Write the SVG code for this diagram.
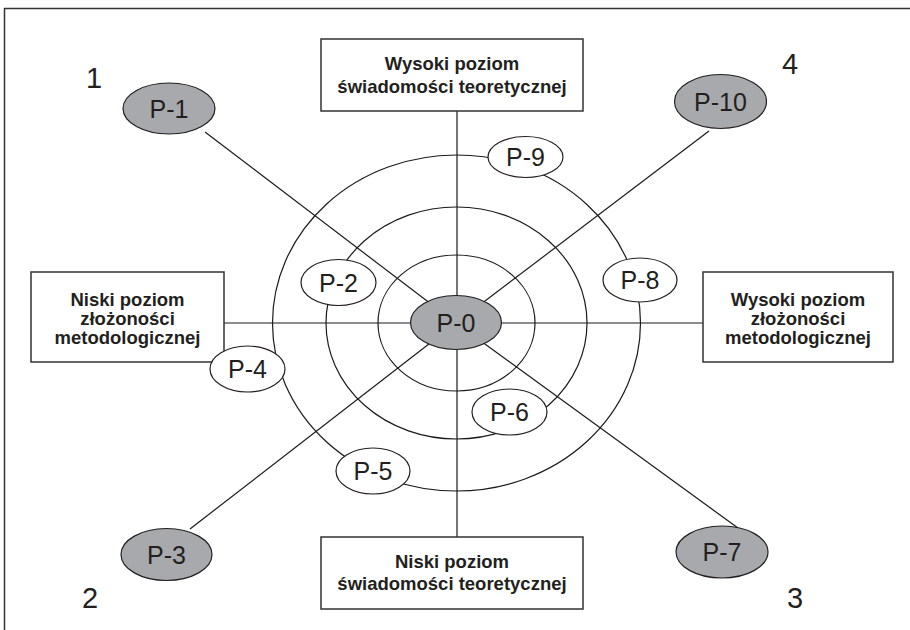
<svg xmlns="http://www.w3.org/2000/svg" width="910" height="630" viewBox="0 0 910 630">
<style>
.ln{stroke:#1a1a1a;stroke-width:1.2;fill:none}
.box{fill:#fff;stroke:#333;stroke-width:1.5}
.bt{font-family:"Liberation Sans",Arial,sans-serif;font-weight:bold;font-size:18.5px;fill:#231f20;text-anchor:middle}
.g{fill:#a7a9ac;stroke:#231f20;stroke-width:1.2}
.w{fill:#fff;stroke:#231f20;stroke-width:1.2}
.pt{font-family:"Liberation Sans",Arial,sans-serif;font-size:25px;fill:#231f20;text-anchor:middle}
.num{font-family:"Liberation Sans",Arial,sans-serif;font-size:29px;fill:#231f20;text-anchor:middle}
</style>
<rect width="910" height="630" fill="#fff"/>
<g id="frame">
<line x1="4" y1="8.5" x2="910" y2="8.5" stroke="#333" stroke-width="1.5"/>
<line x1="4.5" y1="8" x2="4.5" y2="630" stroke="#333" stroke-width="1.5"/>
</g>
<g id="connectors">
<ellipse class="ln" cx="456.5" cy="323" rx="184" ry="168"/>
<ellipse class="ln" cx="456.5" cy="323" rx="130.5" ry="116"/>
<ellipse class="ln" cx="456.5" cy="323" rx="78.5" ry="68"/>
<line class="ln" x1="457" y1="111" x2="457" y2="537"/>
<line class="ln" x1="224" y1="323" x2="703" y2="323"/>
<line class="ln" x1="205" y1="132" x2="456" y2="323"/>
<line class="ln" x1="709" y1="131" x2="456" y2="323"/>
<line class="ln" x1="190" y1="529" x2="456" y2="323"/>
<line class="ln" x1="738" y1="528" x2="456" y2="323"/>
</g>
<g id="box-top"><rect class="box" x="321" y="39" width="262" height="72"/>
<text class="bt" x="452" y="70">Wysoki poziom</text><text class="bt" x="452" y="93">świadomości teoretycznej</text></g>
<g id="box-bottom"><rect class="box" x="321" y="537" width="262" height="72"/>
<text class="bt" x="452" y="568">Niski poziom</text><text class="bt" x="452" y="590">świadomości teoretycznej</text></g>
<g id="box-left"><rect class="box" x="31" y="272" width="193" height="90"/>
<text class="bt" x="127.5" y="306">Niski poziom</text><text class="bt" x="127.5" y="325">złożoności</text><text class="bt" x="127.5" y="344">metodologicznej</text></g>
<g id="box-right"><rect class="box" x="703" y="272" width="190" height="90"/>
<text class="bt" x="798" y="306">Wysoki poziom</text><text class="bt" x="798" y="325">złożoności</text><text class="bt" x="798" y="344">metodologicznej</text></g>
<g id="P-0"><ellipse class="g" cx="456" cy="322.5" rx="45.5" ry="27"/><text class="pt" x="456" y="331.5">P-0</text></g>
<g id="P-1"><ellipse class="g" cx="169" cy="108.5" rx="46" ry="25.5"/><text class="pt" x="169" y="117.5">P-1</text></g>
<g id="P-10"><ellipse class="g" cx="720.5" cy="101.5" rx="46" ry="27"/><text class="pt" x="720.5" y="110.5">P-10</text></g>
<g id="P-3"><ellipse class="g" cx="166.5" cy="554.5" rx="45.5" ry="26"/><text class="pt" x="166.5" y="563.5">P-3</text></g>
<g id="P-7"><ellipse class="g" cx="722" cy="552" rx="46" ry="26"/><text class="pt" x="722" y="561">P-7</text></g>
<g id="P-9"><ellipse class="w" cx="525.5" cy="157" rx="37.5" ry="20.5"/><text class="pt" x="525.5" y="166">P-9</text></g>
<g id="P-2"><ellipse class="w" cx="338.5" cy="282.5" rx="37.5" ry="23"/><text class="pt" x="338.5" y="291.5">P-2</text></g>
<g id="P-8"><ellipse class="w" cx="640" cy="280" rx="37" ry="22"/><text class="pt" x="640" y="289">P-8</text></g>
<g id="P-4"><ellipse class="w" cx="247.5" cy="369" rx="37.5" ry="23"/><text class="pt" x="247.5" y="378">P-4</text></g>
<g id="P-6"><ellipse class="w" cx="509.5" cy="412" rx="37.5" ry="23"/><text class="pt" x="509.5" y="421">P-6</text></g>
<g id="P-5"><ellipse class="w" cx="373" cy="471" rx="37" ry="23"/><text class="pt" x="373" y="480">P-5</text></g>
<g id="labels">
<text class="num" x="94" y="88">1</text>
<text class="num" x="790" y="74">4</text>
<text class="num" x="90" y="608">2</text>
<text class="num" x="795" y="608">3</text>
</g>
</svg>
